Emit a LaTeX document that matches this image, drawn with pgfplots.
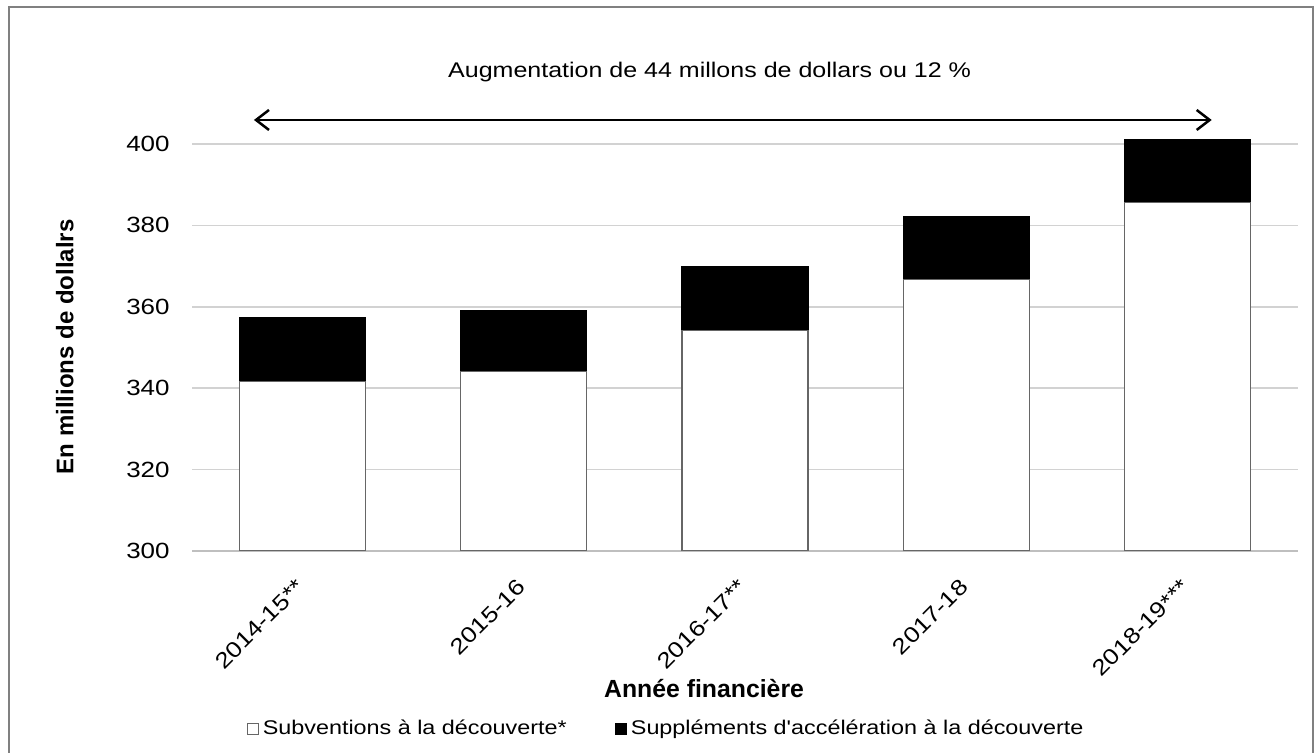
\documentclass[border=0pt]{standalone}
\usepackage{pgfplots}
\pgfplotsset{compat=1.18}
\usepackage{fontspec}
\setmainfont{Liberation Sans}
\newfontfamily\widefont{Liberation Sans}[FakeStretch=1.18]
\usetikzlibrary{arrows.meta}
\begin{document}
\begin{tikzpicture}
\path[use as bounding box] (0,0) rectangle (657.5pt,376.5pt);
\draw[gray, line width=1pt] (4.5pt,-2pt) -- (4.5pt,373pt) -- (656.5pt,373pt) -- (656.5pt,-2pt);
\begin{axis}[
  at={(96pt,101pt)}, anchor=south west,
  scale only axis, width=553pt, height=206.55pt,
  ybar stacked, bar width=63pt,
  xmin=-0.5, xmax=4.5, ymin=300, ymax=401.5,
  xtick={0,...,4},
  xticklabels={2014-15**,2015-16,2016-17**,2017-18,2018-19***},
  ytick={300,320,...,400},
  major tick length=0pt,
  ymajorgrids, grid style={draw=gray!35, line width=0.75pt},
  axis x line*=bottom, axis y line*=left,
  x axis line style={draw=gray!50, line width=1pt},
  y axis line style={draw=none},
  /pgf/number format/assume math mode=true,
  tick label style={font=\widefont\fontsize{11}{13}\selectfont},
  yticklabel style={inner sep=0pt, xshift=-11pt},
  xticklabel style={xshift=-1pt, yshift=-16pt, rotate=45, anchor=east, inner sep=0pt},
  xlabel={Année financière},
  xlabel style={font=\bfseries\fontsize{12.4}{14}\selectfont, at={(axis description cs:0.463,-0.334)}, anchor=center},
  ylabel={En millions de dollalrs},
  ylabel style={font=\bfseries\fontsize{12}{14}\selectfont, at={(axis description cs:-0.115,0.494)}, anchor=center},
  legend style={draw=none, at={(axis description cs:0.4295,-0.43)}, anchor=center,
    font=\widefont\fontsize{9.9}{12}\selectfont,
    /tikz/every even column/.append style={column sep=22pt}},
  legend columns=2,
  legend image code/.code={\draw[#1, line width=0.5pt] (0pt,-2.8pt) rectangle (5.6pt,2.8pt);},
]
\addplot[fill=white, draw=gray!80!black, line width=0.6pt] coordinates {(0,341.7) (1,344.1) (2,354.2) (3,366.7) (4,385.7)};
\addplot[fill=black, draw=black, line width=0.6pt] coordinates {(0,15.7) (1,15.0) (2,15.6) (3,15.4) (4,15.4)};
\legend{Subventions à la découverte*, Suppléments d'accélération à la découverte}
\coordinate (aL) at (axis cs:-0.22,405.9);
\coordinate (aR) at (axis cs:4.11,405.9);
\coordinate (tt) at (axis cs:1.84,417.7);
\end{axis}
\draw[line width=1.25pt, {Straight Barb[length=6.5pt,width=10pt]}-{Straight Barb[length=6.5pt,width=10pt]}] (aL) -- (aR);
\node[font=\widefont\fontsize{10.6}{12}\selectfont] at (tt) {Augmentation de 44 millons de dollars ou 12~\%};
\end{tikzpicture}
\end{document}
